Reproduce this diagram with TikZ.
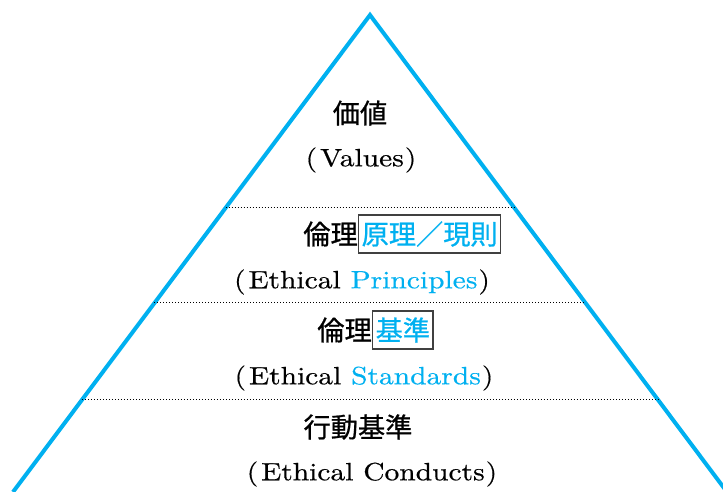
\documentclass[tikz,border=0pt]{standalone}
\usepackage{fontspec}
\newfontfamily\enfont{lmroman10-regular.otf}[FakeStretch=1.18,FakeBold=0.5]
\newfontfamily\jpfont[FakeBold=0.8]{Noto Sans CJK JP}
\usetikzlibrary{calc,positioning}
\newcommand\enpar[1]{(\kern3pt #1\kern1pt)}
\begin{document}
\begin{tikzpicture}[x=1pt,y=-1pt,
  jp/.style={font=\jpfont\fontsize{27.2}{28}\selectfont,inner sep=0pt},
  en/.style={font=\enfont\fontsize{25}{26}\selectfont,inner sep=0pt},
  hlbox/.style={draw=black!75,line width=1.3pt,inner xsep=3pt,minimum height=38pt,text=skyblue},
  level/.style={line width=1pt,dash pattern=on 1pt off 2pt}]
\definecolor{skyblue}{HTML}{00B0F0}
\useasboundingbox (0,0) rectangle (723,492);
% the pyramid
\coordinate (apex) at (370,15);
\coordinate (bl) at (13,492);
\coordinate (br) at (727,492);
\draw[skyblue,line width=4pt] (bl) -- (apex) -- (br);
  \foreach \y in {208,303,400}
  {  \draw[level] ($(apex)!{(\y-15)/477}!(bl)$) -- ($(apex)!{(\y-15)/477}!(br)$);}
% level texts
\node[jp] (values) at (360,113) {価値};
\node[en] (valuesen) at (361,160) {\enpar{Values}};
\node[jp,anchor=east] (ethA) at (358,234) {倫理};
\node[jp,hlbox,right=0pt of ethA] (princ) {原理／現則};
\node[en] (princen) at (362,282) {\enpar{Ethical \textcolor{skyblue}{Principles}}};
\node[jp,anchor=east] (ethB) at (372,330) {倫理};
\node[jp,hlbox,right=0pt of ethB] (stand) {基準};
\node[en] (standen) at (364,378) {\enpar{Ethical \textcolor{skyblue}{Standards}}};
\node[jp] (conduct) at (358,427) {行動基準};
\node[en] (conducten) at (372,474) {\enpar{Ethical Conducts}};
\end{tikzpicture}
\end{document}
